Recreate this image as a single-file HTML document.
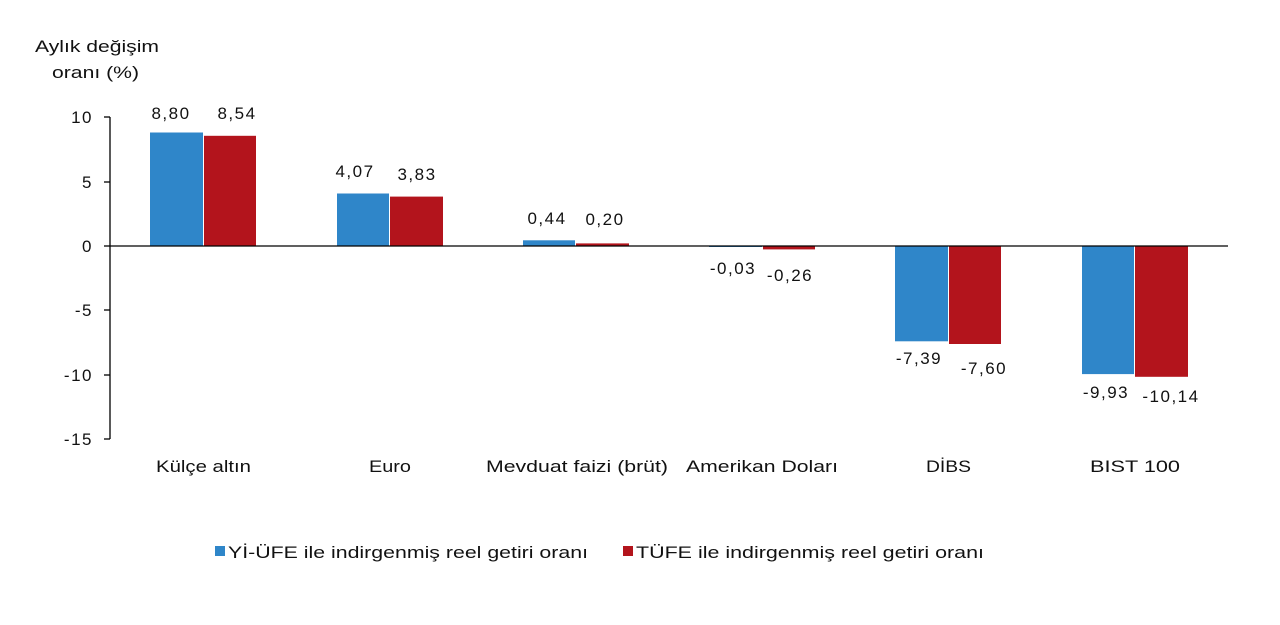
<!DOCTYPE html>
<html><head><meta charset="utf-8"><style>
html,body{margin:0;padding:0;background:#fff;}
svg{display:block;}
text{font-family:"Liberation Sans",Arial,sans-serif;font-size:17px;fill:#111;}
.n{letter-spacing:1.5px;}
</style></head><body>
<svg width="1280" height="625" viewBox="0 0 1280 625">
<rect width="1280" height="625" fill="#fff"/>
<text x="35" y="52" textLength="124" lengthAdjust="spacingAndGlyphs">Aylık değişim</text>
<text x="52" y="78" textLength="87" lengthAdjust="spacingAndGlyphs">oranı (%)</text>
<g stroke="#000" stroke-width="1.3">
<line x1="110" y1="117" x2="110" y2="439"/>
<line x1="104" y1="117" x2="110" y2="117"/>
<line x1="104" y1="182" x2="110" y2="182"/>
<line x1="104" y1="246" x2="110" y2="246"/>
<line x1="104" y1="310" x2="110" y2="310"/>
<line x1="104" y1="375" x2="110" y2="375"/>
<line x1="104" y1="439" x2="110" y2="439"/>
</g>
<g text-anchor="end" class="n">
<text x="93" y="123">10</text>
<text x="93" y="188">5</text>
<text x="93" y="252">0</text>
<text x="93" y="316">-5</text>
<text x="93" y="381">-10</text>
<text x="93" y="445">-15</text>
</g>
<g fill="#2F86C9">
<rect x="150" y="132.5" width="53" height="113.5"/>
<rect x="337" y="193.5" width="52" height="52.5"/>
<rect x="523" y="240.3" width="52" height="5.7"/>
<rect x="709" y="246" width="53" height="1"/>
<rect x="895" y="246" width="53" height="95.3"/>
<rect x="1082" y="246" width="52" height="128.1"/>
</g>
<g fill="#B3141C">
<rect x="204" y="135.8" width="52" height="110.2"/>
<rect x="390" y="196.6" width="53" height="49.4"/>
<rect x="576" y="243.4" width="53" height="2.6"/>
<rect x="763" y="246" width="52" height="3.4"/>
<rect x="949" y="246" width="52" height="98"/>
<rect x="1135" y="246" width="53" height="130.8"/>
</g>
<line x1="110" y1="246" x2="1228" y2="246" stroke="#000" stroke-width="1.3"/>
<g text-anchor="middle" class="n">
<text x="171" y="119">8,80</text>
<text x="237" y="119">8,54</text>
<text x="355" y="177">4,07</text>
<text x="417" y="180">3,83</text>
<text x="547" y="224">0,44</text>
<text x="605" y="225">0,20</text>
<text x="733" y="274">-0,03</text>
<text x="790" y="281">-0,26</text>
<text x="919" y="364">-7,39</text>
<text x="984" y="374">-7,60</text>
<text x="1106" y="398">-9,93</text>
<text x="1171" y="402">-10,14</text>
</g>
<g>
<text x="156" y="472" textLength="95" lengthAdjust="spacingAndGlyphs">Külçe altın</text>
<text x="369" y="472" textLength="42" lengthAdjust="spacingAndGlyphs">Euro</text>
<text x="486" y="472" textLength="182" lengthAdjust="spacingAndGlyphs">Mevduat faizi (brüt)</text>
<text x="686" y="472" textLength="152" lengthAdjust="spacingAndGlyphs">Amerikan Doları</text>
<text x="926" y="472" textLength="45" lengthAdjust="spacingAndGlyphs">DİBS</text>
<text x="1090" y="472" textLength="90" lengthAdjust="spacingAndGlyphs">BIST 100</text>
</g>
<rect x="215" y="546" width="10" height="10" fill="#2F86C9"/>
<text x="228" y="558" textLength="360" lengthAdjust="spacingAndGlyphs">Yİ-ÜFE ile indirgenmiş reel getiri oranı</text>
<rect x="623" y="546" width="10" height="10" fill="#B3141C"/>
<text x="636" y="558" textLength="348" lengthAdjust="spacingAndGlyphs">TÜFE ile indirgenmiş reel getiri oranı</text>
</svg>
</body></html>
